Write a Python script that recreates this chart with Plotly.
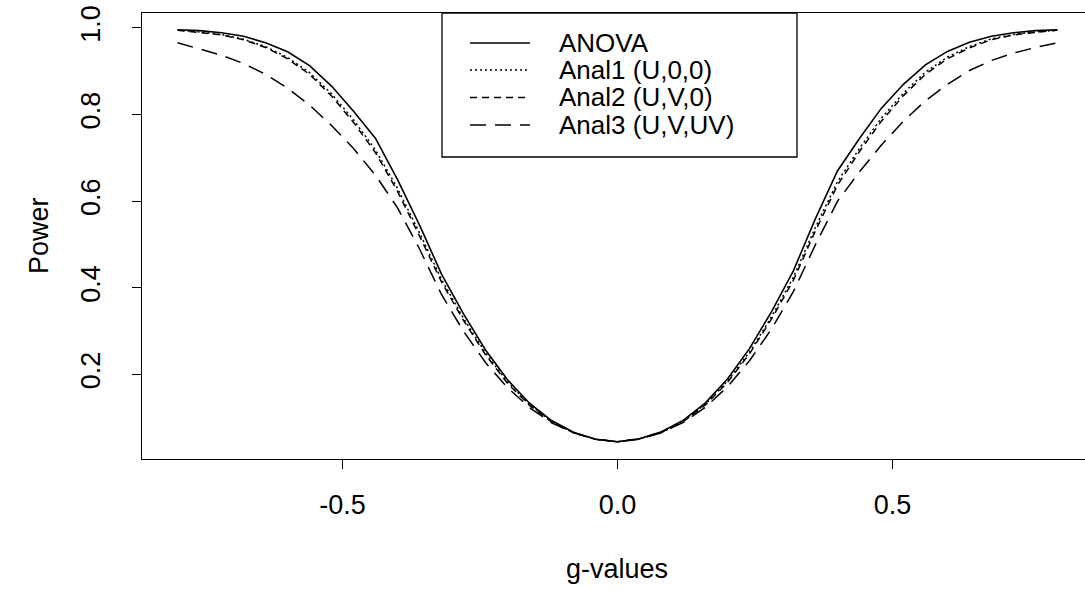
import plotly.graph_objects as go

# ---------------- data ----------------
g_values = [-0.80, -0.76, -0.72, -0.68, -0.64, -0.60, -0.56, -0.52, -0.48, -0.44,
            -0.40, -0.36, -0.32, -0.28, -0.24, -0.20, -0.16, -0.12, -0.08, -0.04,
            0.00,
            0.04, 0.08, 0.12, 0.16, 0.20, 0.24, 0.28, 0.32, 0.36, 0.40,
            0.44, 0.48, 0.52, 0.56, 0.60, 0.64, 0.68, 0.72, 0.76, 0.80]

anova = [0.996, 0.994, 0.989, 0.981, 0.966, 0.945, 0.913, 0.866, 0.808, 0.745,
         0.650, 0.545, 0.432, 0.340, 0.257, 0.188, 0.134, 0.094, 0.067, 0.051,
         0.045,
         0.052, 0.068, 0.095, 0.135, 0.190, 0.260, 0.345, 0.440, 0.560, 0.670,
         0.745, 0.815, 0.870, 0.915, 0.946, 0.967, 0.981, 0.989, 0.994, 0.996]

anal1 = [0.995, 0.991, 0.985, 0.974, 0.957, 0.932, 0.897, 0.848, 0.788, 0.718,
         0.630, 0.527, 0.420, 0.330, 0.250, 0.183, 0.131, 0.092, 0.066, 0.051,
         0.045,
         0.052, 0.067, 0.093, 0.132, 0.185, 0.252, 0.333, 0.425, 0.540, 0.645,
         0.722, 0.792, 0.850, 0.898, 0.933, 0.957, 0.975, 0.985, 0.991, 0.995]

anal2 = [0.995, 0.990, 0.984, 0.973, 0.955, 0.929, 0.893, 0.843, 0.782, 0.712,
         0.623, 0.520, 0.414, 0.325, 0.246, 0.180, 0.129, 0.091, 0.066, 0.051,
         0.045,
         0.052, 0.067, 0.092, 0.130, 0.182, 0.248, 0.328, 0.418, 0.532, 0.637,
         0.715, 0.785, 0.844, 0.893, 0.929, 0.954, 0.973, 0.984, 0.990, 0.995]

anal3 = [0.966, 0.952, 0.937, 0.918, 0.893, 0.861, 0.822, 0.775, 0.722, 0.660,
         0.585, 0.490, 0.385, 0.300, 0.228, 0.170, 0.124, 0.089, 0.066, 0.051,
         0.045,
         0.051, 0.066, 0.090, 0.125, 0.172, 0.232, 0.305, 0.392, 0.500, 0.600,
         0.668, 0.730, 0.785, 0.832, 0.870, 0.902, 0.925, 0.942, 0.955, 0.966]

series_names = ["ANOVA", "Anal1 (U,0,0)", "Anal2 (U,V,0)", "Anal3 (U,V,UV)"]
x_tick_vals = [-0.5, 0.0, 0.5]
x_tick_text = ["-0.5", "0.0", "0.5"]
y_tick_vals = [0.2, 0.4, 0.6, 0.8, 1.0]
y_tick_text = ["0.2", "0.4", "0.6", "0.8", "1.0"]

# ---------------- style ----------------
FONT = "Liberation Sans, Arial, Helvetica, sans-serif"
FS = 27
FS_LEG = 26
W, H = 1085, 590
ML, MR, MT, MB = 142, 0, 13, 131
styles = [
    dict(width=1.6, dash="solid"),
    dict(width=1.5, dash="2px,3px"),
    dict(width=1.5, dash="7px,5px"),
    dict(width=1.5, dash="16px,9px"),
]

fig = go.Figure()
for name, ys, st in zip(series_names, [anova, anal1, anal2, anal3], styles):
    fig.add_trace(go.Scatter(x=g_values, y=ys, mode="lines", name=name,
                             line=dict(color="black", width=st["width"], dash=st["dash"]),
                             showlegend=False, hoverinfo="skip"))

# pixel -> paper helpers for the hand-drawn legend
PW = W - ML - MR
PH = H - MT - MB
def px(xp):
    return (xp - ML) / PW
def py(yp):
    return 1 - (yp - MT) / PH

shapes = [dict(type="rect", xref="paper", yref="paper",
               x0=px(442), x1=px(797), y0=py(157), y1=py(13),
               line=dict(color="black", width=1.3), fillcolor="white", layer="above")]
annotations = []
rows_y = [43, 70, 97.5, 125]
for name, st, ry in zip(series_names, styles, rows_y):
    shapes.append(dict(type="line", xref="paper", yref="paper",
                       x0=px(470), x1=px(530), y0=py(ry), y1=py(ry),
                       line=dict(color="black", width=st["width"], dash=st["dash"]),
                       layer="above"))
    annotations.append(dict(text=name, xref="paper", yref="paper",
                            x=px(557), y=py(ry), xanchor="left", yanchor="middle",
                            showarrow=False, font=dict(family=FONT, size=FS_LEG, color="black")))

# axis titles
annotations.append(dict(text="g-values", xref="x", yref="paper", x=0.0, y=py(569),
                        xanchor="center", yanchor="middle", showarrow=False,
                        font=dict(family=FONT, size=FS, color="black")))
annotations.append(dict(text="Power", xref="paper", yref="paper", x=px(39), y=0.5,
                        xanchor="center", yanchor="middle", textangle=-90, showarrow=False,
                        font=dict(family=FONT, size=FS, color="black")))

fig.update_layout(
    width=W, height=H,
    margin=dict(l=ML, r=MR, t=MT, b=MB, pad=0),
    paper_bgcolor="white", plot_bgcolor="white",
    font=dict(family=FONT, size=FS, color="black"),
    showlegend=False, hovermode=False,
    shapes=shapes, annotations=annotations,
    xaxis=dict(range=[-0.8647, 0.8502], tickvals=x_tick_vals, ticktext=x_tick_text,
               showgrid=False, zeroline=False, showline=True, mirror=True,
               linecolor="black", linewidth=1.3, ticks="outside", ticklen=9,
               tickwidth=1.3, tickcolor="black", ticklabelstandoff=12,
               tickfont=dict(family=FONT, size=FS, color="black")),
    yaxis=dict(range=[0.0053, 1.0346], tickvals=y_tick_vals, ticktext=y_tick_text,
               showgrid=False, zeroline=False, showline=True, mirror=False,
               linecolor="black", linewidth=1.3, ticks="outside", ticklen=9,
               tickwidth=1.3, tickcolor="black", tickangle=-90, ticklabelstandoff=21,
               tickfont=dict(family=FONT, size=FS, color="black")),
)

fig.write_html("out.html", config={"displayModeBar": False},
               post_script="document.body.style.margin='0';document.body.style.padding='0';")
